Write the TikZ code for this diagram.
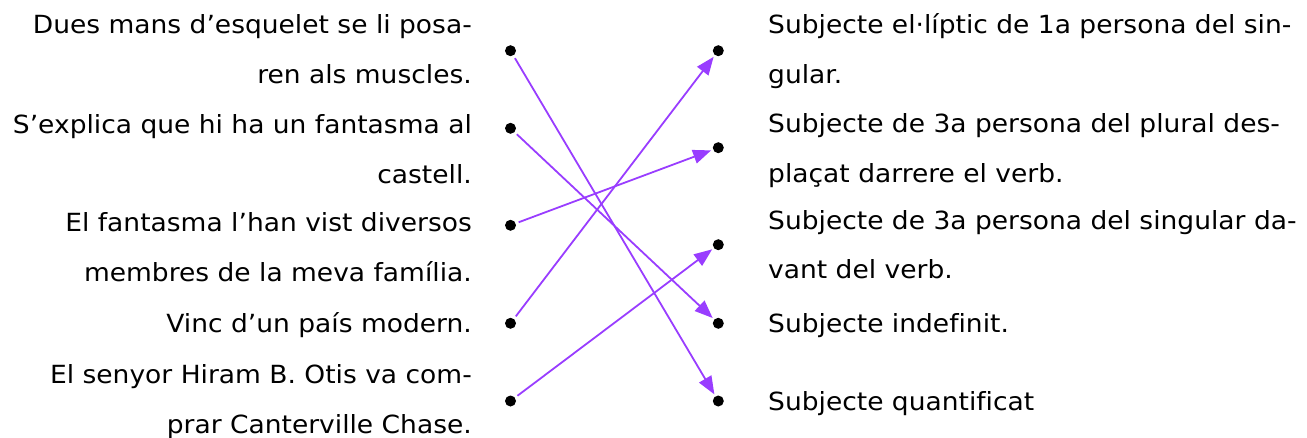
\documentclass[tikz,border=0pt]{standalone}
\usepackage{fontspec}
\setmainfont[FakeStretch=1.06,Ligatures=NoCommon]{DejaVu Sans}
\usetikzlibrary{arrows.meta}
\definecolor{arrowpurple}{RGB}{153,61,255}
\begin{document}
\begin{tikzpicture}[x=1pt,y=-1pt,
  txt/.style={inner sep=0pt, font=\fontsize{25}{30}\selectfont},
  lt/.style={txt, anchor=base east},
  rt/.style={txt, anchor=base west},
  dot/.style={circle, fill=black, inner sep=0pt, minimum size=11pt},
  link/.style={draw=arrowpurple, line width=1.8pt, shorten >=2pt, shorten <=3pt,
    -{Triangle[length=18pt,width=14pt]}}]
\useasboundingbox (0,0) rectangle (1307,437);
% left texts
\node[lt] (l1a) at (472,33) {Dues mans d’esquelet se li posa-};
\node[lt] (l1b) at (472,83) {ren als muscles.};
\node[lt] (l2a) at (472,133) {S’explica que hi ha un fantasma al};
\node[lt] (l2b) at (472,183) {castell.};
\node[lt] (l3a) at (472,231) {El fantasma l’han vist diversos};
\node[lt] (l3b) at (472,281) {membres de la meva família.};
\node[lt] (l4a) at (472,332) {Vinc d’un país modern.};
\node[lt] (l5a) at (472,383) {El senyor Hiram B. Otis va com-};
\node[lt] (l5b) at (472,433) {prar Canterville Chase.};
% right texts
\node[rt] (r1a) at (768,33) {Subjecte el·líptic de 1a persona del sin-};
\node[rt] (r1b) at (768,83) {gular.};
\node[rt] (r2a) at (768,132) {Subjecte de 3a persona del plural des-};
\node[rt] (r2b) at (768,182) {plaçat darrere el verb.};
\node[rt] (r3a) at (768,229) {Subjecte de 3a persona del singular da-};
\node[rt] (r3b) at (768,278) {vant del verb.};
\node[rt] (r4a) at (768,332) {Subjecte indefinit.};
\node[rt] (r5a) at (768,410) {Subjecte quantificat};
% dots
\node[dot] (L1) at (510.5,50.7) {};
\node[dot] (L2) at (510.5,128.3) {};
\node[dot] (L3) at (510.5,225.3) {};
\node[dot] (L4) at (510.5,323.3) {};
\node[dot] (L5) at (510.5,401) {};
\node[dot] (R1) at (718.3,50.7) {};
\node[dot] (R2) at (718.3,147.7) {};
\node[dot] (R3) at (718.3,244.7) {};
\node[dot] (R4) at (718.3,323.3) {};
\node[dot] (R5) at (718.3,401) {};
% connectors
\draw[link] (L1) -- (R5);
\draw[link] (L2) -- (R4);
\draw[link] (L3) -- (R2);
\draw[link] (L4) -- (R1);
\draw[link] (L5) -- (R3);
\end{tikzpicture}
\end{document}
